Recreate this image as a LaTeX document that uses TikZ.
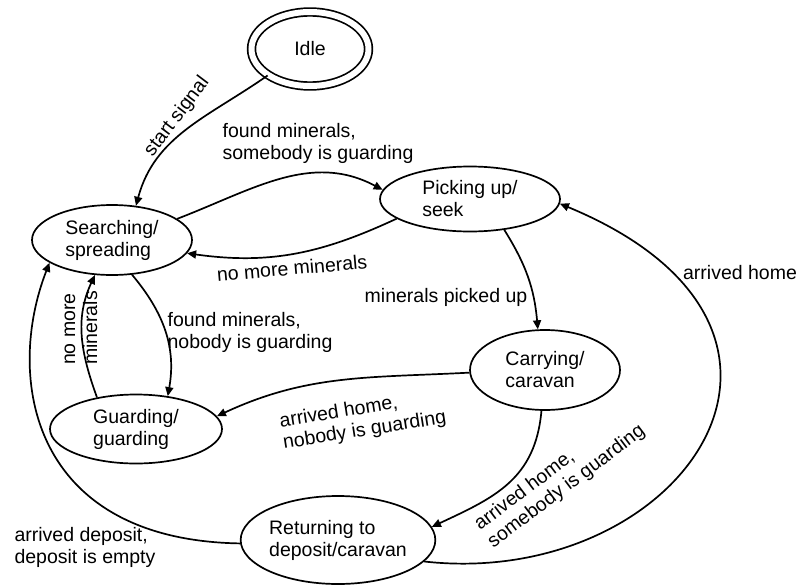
\documentclass[tikz,border=0pt]{standalone}
\usepackage{fontspec}
\setmainfont{Liberation Sans}
\usetikzlibrary{shapes.geometric,arrows.meta}

\begin{document}
\begin{tikzpicture}[x=1pt, y=1pt, line width=1.7pt,
    >={Triangle[length=9pt,width=8pt]},
    font=\fontsize{19.5}{22}\selectfont,
    state/.style={ellipse, draw, inner sep=0pt, align=left},
    lbl/.style={align=left, inner sep=0pt}]
  \useasboundingbox (0,0) rectangle (799,-586);
  % States
  \node[state, double, double distance=6pt, minimum width=117, minimum height=74] (idle) at (310,-49) {Idle};
  \node[state, minimum width=160, minimum height=70] (search) at (112,-240) {Searching/\\spreading};
  \node[state, minimum width=180, minimum height=65] (pick) at (470,-199) {Picking up/\\seek};
  \node[state, minimum width=150, minimum height=80] (carry) at (545,-370) {Carrying/\\caravan};
  \node[state, minimum width=172, minimum height=69] (guard) at (136,-429) {Guarding/\\guarding};
  \node[state, minimum width=194, minimum height=88] (ret) at (338,-540) {Returning to\\deposit/caravan};
  % Transitions
  \draw[->] (idle.212) to[out=215, in=75] (search.55);
  \draw[->] (search.18) to[out=21, in=152] (pick.174);
  \draw[->] (pick.195) to[out=205, in=-8] (search.350);
  \draw[->] (pick.-42) to[out=-58, in=95] (carry.100);
  \draw[->] (search.-60) to[out=-50, in=80] (guard.46);
  \draw[->] (guard.141) to[out=110, in=245] (search.244);
  \draw[->] (carry.182) to[out=183, in=25] (guard.9);
  \draw[->] (carry.-95) to[out=-95, in=25, looseness=1.1] (ret.8);
  \draw[->] (ret.-14) .. controls (680,-590) and (865,-330) .. (pick.-3);
  \draw[->] (ret.182) .. controls (30,-540) and (5,-377) .. (search.200);
  % Labels
  \node[lbl, rotate=53] (lstart) at (177,-117) {start signal};
  \node[lbl] (lfoundsome) at (318,-143) {found minerals,\\somebody is guarding};
  \node[lbl, rotate=5] (lnomore) at (292,-268) {no more minerals};
  \node[lbl] (lpicked) at (446,-297) {minerals picked up};
  \node[lbl] (lfoundnobody) at (250,-332) {found minerals,\\nobody is guarding};
  \node[lbl, rotate=90] (lnomore2) at (81,-328) {no more\\minerals};
  \node[lbl, rotate=9] (lhomenobody) at (363,-420) {arrived home,\\nobody is guarding};
  \node[lbl, rotate=37] (lhomesome) at (560,-478) {arrived home,\\somebody is guarding};
  \node[lbl] (lhome) at (740,-273) {arrived home};
  \node[lbl] (ldeposit) at (85,-547) {arrived deposit,\\deposit is empty};
\end{tikzpicture}
\end{document}
